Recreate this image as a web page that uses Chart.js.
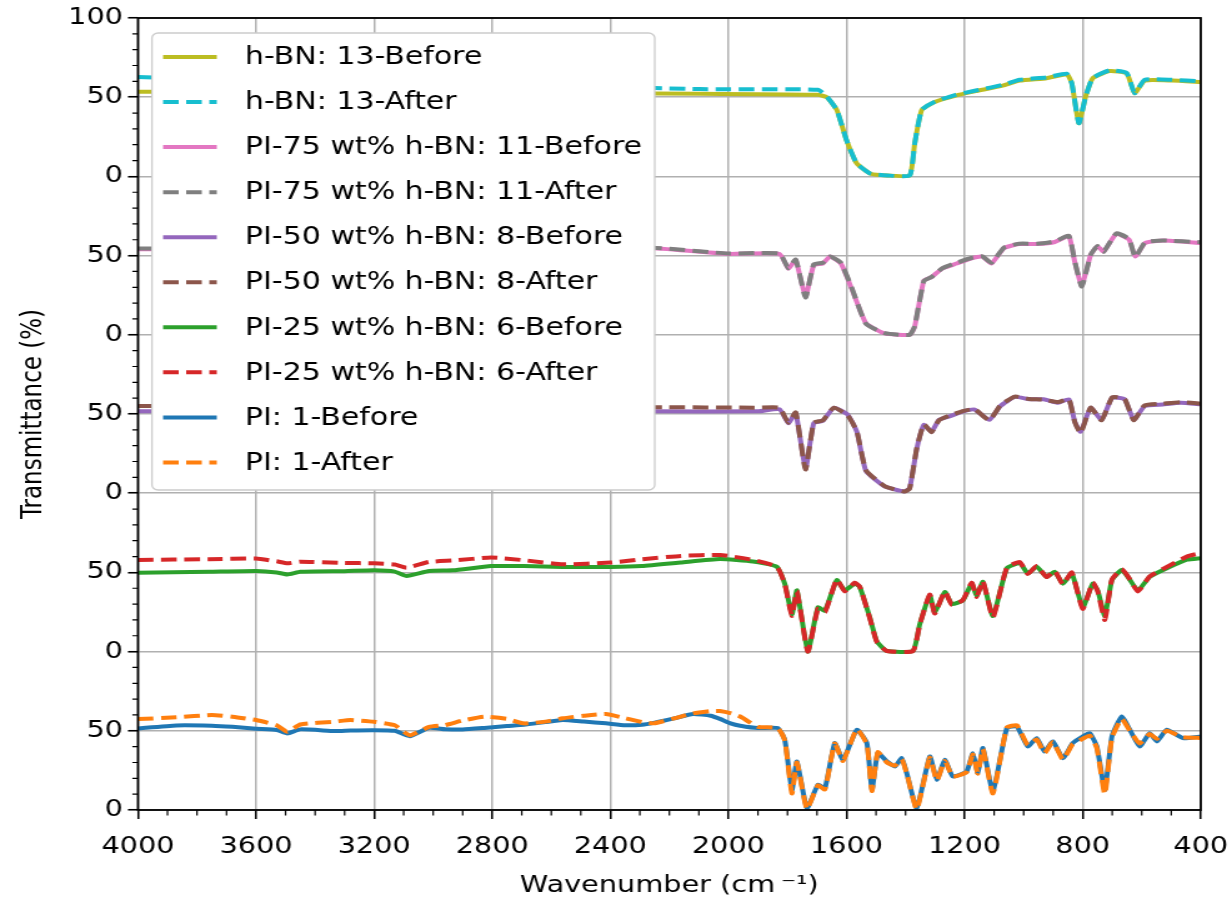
<!DOCTYPE html>
<html>
<head>
<meta charset="utf-8">
<script src="https://cdn.jsdelivr.net/npm/chart.js@4.4.0/dist/chart.umd.min.js"></script>
<style>
  html, body { margin: 0; padding: 0; background: #fff; overflow: hidden; }
  #wrap { width: 986px; height: 907px; transform: scaleX(1.2495); transform-origin: 0 0; }
</style>
</head>
<body>
<div id="wrap"><canvas id="ftir" width="986" height="907"></canvas></div>
<script>
// wavenumber grids (cm-1) and transmittance (%)
const piWn = [4000, 3870, 3750, 3680, 3600, 3530, 3494, 3450, 3333, 3280, 3200, 3130, 3080, 3014, 2960, 2900, 2827, 2750, 2693, 2620, 2561, 2490, 2415, 2350, 2293, 2253, 2180, 2120, 2060, 2029, 1990, 1960, 1900, 1833, 1809, 1785, 1768, 1734, 1697, 1673, 1640, 1612, 1565, 1531, 1514, 1494, 1463, 1436, 1413, 1396, 1362, 1318, 1294, 1267, 1240, 1193, 1172, 1155, 1138, 1104, 1057, 1023, 986, 956, 929, 901, 867, 834, 800, 776, 752, 725, 701, 668, 640, 607, 573, 549, 515, 461, 400];
const piBefore = [51.5, 53.4, 53.2, 52.5, 51.3, 50.5, 48.3, 50.9, 49.8, 50.2, 50.4, 50.0, 46.6, 51.9, 51.0, 50.8, 51.8, 53.0, 53.8, 55.5, 56.8, 55.8, 54.7, 53.5, 53.8, 55.0, 58.0, 60.6, 59.5, 57.5, 54.5, 53.2, 51.7, 51.7, 44.3, 12.7, 30.6, 1.2, 15.9, 13.8, 42.2, 31.7, 50.6, 42.2, 12.7, 35.9, 30.6, 27.5, 32.7, 23.3, 1.2, 33.8, 19.1, 31.7, 21.2, 24.3, 35.9, 23.3, 39.1, 11.7, 51.7, 52.7, 40.1, 45.4, 36.9, 43.3, 32.7, 42.2, 46.4, 48.5, 40.1, 12.7, 46.4, 59.0, 50.6, 40.1, 48.5, 43.3, 50.6, 45.4, 46.4];
const piAfter = [57.4, 58.5, 60.0, 58.9, 56.8, 53.5, 49.4, 54.0, 55.8, 56.8, 55.7, 53.5, 47.2, 52.5, 53.6, 56.5, 58.9, 57.5, 54.7, 55.8, 57.9, 59.5, 60.6, 58.0, 55.5, 54.7, 58.0, 61.0, 62.5, 62.5, 61.0, 59.0, 52.5, 51.7, 44.0, 10.5, 30.0, 0.5, 15.5, 13.0, 42.0, 31.0, 51.0, 41.5, 12.0, 36.5, 30.0, 28.0, 32.0, 23.0, 0.5, 33.0, 18.5, 31.0, 21.0, 24.0, 35.0, 23.0, 38.5, 10.5, 52.0, 53.5, 41.0, 44.5, 36.0, 43.0, 32.0, 41.5, 45.0, 47.0, 39.0, 10.0, 45.5, 57.5, 50.0, 42.0, 48.0, 45.0, 50.0, 46.0, 45.5];

const p25Wn = [4000, 3760, 3600, 3530, 3494, 3450, 3300, 3200, 3130, 3090, 3014, 2933, 2804, 2693, 2561, 2400, 2293, 2161, 2029, 1917, 1836, 1809, 1785, 1768, 1731, 1697, 1673, 1633, 1606, 1572, 1555, 1521, 1497, 1463, 1375, 1352, 1318, 1301, 1267, 1243, 1206, 1176, 1159, 1138, 1104, 1057, 1013, 986, 956, 922, 895, 867, 837, 800, 766, 749, 725, 701, 668, 647, 613, 573, 515, 447, 400];
const p25Before = [49.8, 50.4, 50.9, 50.0, 48.7, 50.4, 50.8, 51.3, 50.5, 47.7, 50.9, 51.3, 54.0, 54.0, 53.4, 53.4, 54.0, 56.2, 58.4, 56.9, 53.6, 42.9, 23.6, 38.6, 0.0, 27.9, 25.8, 45.1, 38.6, 42.9, 40.8, 21.5, 6.4, 0.4, 0.4, 17.2, 35.4, 24.7, 37.6, 30.0, 32.2, 42.9, 35.4, 44.0, 22.5, 52.6, 55.8, 49.4, 53.6, 47.2, 50.4, 42.9, 49.4, 27.9, 42.9, 38.6, 22.5, 45.1, 51.5, 47.2, 38.6, 47.2, 52.6, 58.0, 59.0];
const p25After = [57.9, 58.3, 58.7, 57.0, 55.7, 56.8, 56.0, 55.7, 55.0, 53.0, 56.6, 57.5, 59.4, 57.7, 55.1, 56.2, 58.3, 60.4, 61.0, 57.9, 53.6, 42.5, 22.5, 38.0, 0.0, 27.0, 25.0, 45.5, 38.0, 43.5, 41.0, 21.0, 6.0, 0.4, 0.4, 17.0, 36.0, 24.0, 38.0, 29.5, 32.5, 43.5, 34.5, 44.5, 21.5, 53.0, 56.5, 49.0, 54.0, 47.0, 51.0, 42.5, 50.0, 27.0, 43.5, 38.0, 20.0, 45.5, 52.0, 47.5, 38.0, 47.5, 53.5, 60.0, 62.2];

const p50Wn = [4000, 3000, 2256, 1900, 1827, 1797, 1772, 1739, 1711, 1680, 1643, 1596, 1565, 1534, 1471, 1404, 1386, 1362, 1338, 1312, 1287, 1251, 1203, 1166, 1116, 1079, 1030, 981, 932, 883, 847, 827, 807, 773, 736, 700, 658, 627, 590, 529, 468, 400];
const p50Before = [51.7, 51.7, 51.7, 51.7, 53.0, 44.2, 50.6, 15.5, 44.2, 45.7, 53.9, 49.6, 38.8, 14.0, 4.3, 1.1, 3.2, 28.0, 43.1, 38.8, 46.3, 48.5, 51.7, 52.8, 46.3, 55.0, 60.8, 59.3, 59.3, 57.1, 59.3, 45.3, 38.8, 53.9, 46.3, 60.3, 59.3, 46.3, 55.0, 56.0, 57.1, 56.0];
const p50After = [55.0, 54.5, 54.3, 54.0, 53.9, 44.5, 51.0, 15.0, 44.5, 46.0, 54.0, 49.0, 39.0, 14.5, 4.5, 1.0, 3.0, 28.5, 43.5, 38.5, 46.0, 49.0, 52.0, 53.0, 46.0, 55.5, 61.0, 59.5, 59.0, 57.5, 59.5, 45.0, 38.0, 54.0, 46.0, 60.5, 59.5, 46.0, 55.5, 56.5, 57.5, 56.5];

const p75Wn = [4000, 3000, 2256, 2000, 1827, 1797, 1772, 1739, 1711, 1680, 1656, 1619, 1582, 1534, 1471, 1386, 1369, 1338, 1312, 1276, 1227, 1177, 1140, 1109, 1067, 1016, 955, 894, 847, 827, 803, 773, 750, 729, 686, 643, 622, 588, 527, 400];
const p75Before = [54.0, 54.3, 54.7, 51.1, 51.1, 41.8, 47.2, 24.1, 44.0, 45.0, 49.4, 45.0, 28.9, 7.3, 0.9, 0.0, 5.2, 34.3, 36.4, 41.8, 45.0, 48.3, 49.4, 45.0, 54.7, 57.3, 57.3, 58.6, 62.3, 46.1, 31.0, 50.4, 55.8, 52.6, 63.8, 60.1, 49.4, 58.0, 59.5, 58.0];
const p75After = [54.5, 54.6, 55.0, 51.3, 51.3, 42.0, 47.5, 23.5, 44.5, 45.5, 49.5, 45.5, 29.5, 7.0, 1.0, 0.0, 5.5, 34.0, 36.5, 42.0, 45.5, 48.5, 49.5, 45.5, 55.0, 57.5, 57.5, 59.0, 62.5, 46.5, 30.5, 50.5, 56.0, 52.5, 64.0, 60.5, 49.0, 58.5, 59.5, 58.5];

const bnWn = [4000, 3600, 3200, 2800, 2400, 2097, 1697, 1667, 1633, 1600, 1565, 1518, 1461, 1386, 1369, 1345, 1301, 1230, 1162, 1071, 1013, 922, 854, 837, 813, 790, 766, 709, 651, 624, 590, 498, 400];
const bnBefore = [53.5, 53.3, 53.0, 52.8, 52.5, 52.1, 51.5, 50.0, 42.0, 22.9, 8.1, 1.7, 0.6, 0.6, 20.8, 42.0, 47.0, 51.0, 53.8, 57.3, 60.5, 62.0, 64.5, 58.9, 33.5, 50.4, 62.0, 66.5, 65.0, 52.5, 60.5, 60.5, 59.5];
const bnAfter = [62.7, 61.2, 59.8, 58.3, 56.5, 55.1, 54.7, 50.4, 42.0, 22.9, 8.1, 1.7, 0.6, 0.6, 20.8, 42.0, 47.2, 51.5, 54.2, 57.8, 61.0, 62.5, 64.8, 58.9, 33.5, 50.4, 62.1, 66.9, 65.3, 52.5, 61.0, 61.0, 60.0];

// vertical offset of each sample's trace
const offsets = { bn: 400, p75: 300, p50: 200, p25: 100, pi: 0 };

const labels = [
  'h-BN: 13-Before', 'h-BN: 13-After',
  'PI-75 wt% h-BN: 11-Before', 'PI-75 wt% h-BN: 11-After',
  'PI-50 wt% h-BN: 8-Before', 'PI-50 wt% h-BN: 8-After',
  'PI-25 wt% h-BN: 6-Before', 'PI-25 wt% h-BN: 6-After',
  'PI: 1-Before', 'PI: 1-After'
];
const colors = ['#bcbd22', '#17becf', '#e377c2', '#7f7f7f', '#9467bd', '#8c564b', '#2ca02c', '#d62728', '#1f77b4', '#ff7f0e'];

function pts(wn, vals, off) {
  return wn.map((w, i) => ({ x: w, y: vals[i] + off }));
}

const series = [
  pts(bnWn, bnBefore, offsets.bn), pts(bnWn, bnAfter, offsets.bn),
  pts(p75Wn, p75Before, offsets.p75), pts(p75Wn, p75After, offsets.p75),
  pts(p50Wn, p50Before, offsets.p50), pts(p50Wn, p50After, offsets.p50),
  pts(p25Wn, p25Before, offsets.p25), pts(p25Wn, p25After, offsets.p25),
  pts(piWn, piBefore, offsets.pi), pts(piWn, piAfter, offsets.pi)
];

const DASH = [12.5, 6];

/* ===== PLUGINS ===== */
// minor ticks + black frame (matplotlib style spines)
const frameTicks = {
  id: 'frameTicks',
  afterDatasetsDraw(chart) {
    const { ctx, chartArea: a, scales: { x, y } } = chart;
    ctx.save();
    ctx.strokeStyle = '#000';
    ctx.lineWidth = 1.2;
    ctx.beginPath();
    for (let v = 400; v <= 4000; v += 100) {
      if (v % 400 === 0) continue;
      const px = x.getPixelForValue(v);
      ctx.moveTo(px, a.bottom);
      ctx.lineTo(px, a.bottom + 5.5);
    }
    for (let v = 0; v <= 500; v += 10) {
      if (v % 50 === 0) continue;
      const py = y.getPixelForValue(v);
      ctx.moveTo(a.left, py);
      ctx.lineTo(a.left - 4.5, py);
    }
    ctx.stroke();
    ctx.lineWidth = 1.8;
    ctx.strokeRect(a.left, a.top, a.right - a.left, a.bottom - a.top);
    ctx.restore();
  }
};

// legend box drawn over the plot, upper left
const legendBox = {
  id: 'legendBox',
  afterDraw(chart) {
    const ctx = chart.ctx;
    const bx = 121.6, by = 33, bw = 402.4, bh = 457;
    ctx.save();
    ctx.beginPath();
    ctx.roundRect(bx, by, bw, bh, 5);
    ctx.fillStyle = '#ffffff';
    ctx.fill();
    ctx.strokeStyle = '#cccccc';
    ctx.lineWidth = 1.3;
    ctx.stroke();
    ctx.font = '24px "DejaVu Sans"';
    ctx.textBaseline = 'middle';
    ctx.textAlign = 'left';
    chart.data.datasets.forEach((ds, i) => {
      const yy = 57 + i * 45.05;
      ctx.beginPath();
      ctx.setLineDash(ds.borderDash || []);
      ctx.strokeStyle = ds.borderColor;
      ctx.lineWidth = ds.borderWidth;
      ctx.moveTo(130.5, yy);
      ctx.lineTo(173.5, yy);
      ctx.stroke();
      ctx.setLineDash([]);
      ctx.fillStyle = '#000';
      ctx.fillText(ds.label, 196, yy + 1);
    });
    ctx.restore();
  }
};

Chart.defaults.font.family = '"DejaVu Sans", sans-serif';
Chart.defaults.color = '#000';

new Chart(document.getElementById('ftir'), {
  type: 'line',
  data: {
    datasets: series.map((d, i) => ({
      label: labels[i],
      data: d,
      borderColor: colors[i],
      borderWidth: 4,
      borderDash: i % 2 === 1 ? DASH : [],
      pointRadius: 0,
      tension: 0.15,
      fill: false,
      order: 9 - i
    }))
  },
  options: {
    responsive: false,
    animation: false,
    layout: { padding: { left: 8, top: 18, right: 25, bottom: 0 } },
    scales: {
      x: {
        type: 'linear',
        reverse: true,
        min: 400,
        max: 4000,
        afterFit(s) { s.height = 97; s.paddingLeft = 0; s.paddingRight = 0; },
        ticks: {
          stepSize: 400,
          autoSkip: false,
          maxRotation: 0,
          padding: 14,
          font: { size: 23 },
          callback: v => String(v)
        },
        grid: { color: '#b0b0b0', lineWidth: 1.5, tickColor: '#000', tickWidth: 1.6, tickLength: 9 },
        border: { display: false },
        title: { display: true, text: 'Wavenumber (cm\u2009⁻¹)', font: { size: 23 }, padding: { top: 0, bottom: 7 } }
      },
      y: {
        min: 0,
        max: 500,
        afterFit(s) { s.width = 102.4; s.paddingTop = 0; s.paddingBottom = 0; },
        ticks: {
          stepSize: 50,
          autoSkip: false,
          padding: 4,
          font: { size: 23 },
          callback: v => (v === 500 ? '100' : String(v % 100))
        },
        grid: { color: '#b0b0b0', lineWidth: 1.5, tickColor: '#000', tickWidth: 1.6, tickLength: 8 },
        border: { display: false },
        title: { display: true, text: 'Transmittance (%)', font: { size: 23 }, padding: { top: 5, bottom: 0 } }
      }
    },
    plugins: {
      legend: { display: false },
      tooltip: { enabled: false }
    }
  },
  plugins: [frameTicks, legendBox]
});
</script>
</body>
</html>
